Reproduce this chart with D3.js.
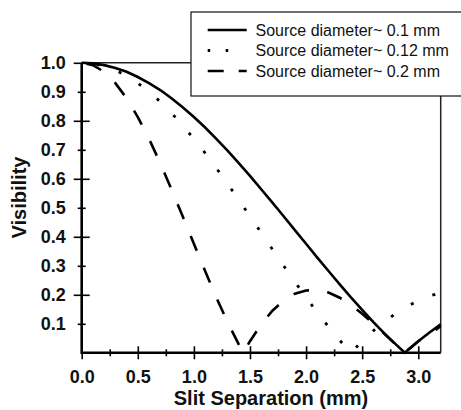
<!DOCTYPE html>
<html><head><meta charset="utf-8">
<script src="https://cdn.jsdelivr.net/npm/d3@7"></script>
<style>
html,body{margin:0;padding:0;background:#fff;}
svg{display:block;font-family:"Liberation Sans",Arial,Helvetica,sans-serif;}
</style></head>
<body>
<svg id="chart" width="461" height="410"></svg>
<script>
// ---- data ----
const xTicksMajor = [0.0, 0.5, 1.0, 1.5, 2.0, 2.5, 3.0];
const xTicksMinor = [0.25, 0.75, 1.25, 1.75, 2.25, 2.75];
const yTicksMajor = [0.2, 0.4, 0.6, 0.8, 1.0];
const yTicksMinor = [0.1, 0.3, 0.5, 0.7, 0.9];
const yTickLabels = [0.1, 0.2, 0.3, 0.4, 0.5, 0.6, 0.7, 0.8, 0.9, 1.0];

const seriesNames = ["Source diameter~ 0.1 mm", "Source diameter~ 0.12 mm", "Source diameter~ 0.2 mm"];

const xSolid = [0,0.1,0.2,0.3,0.4,0.5,0.6,0.7,0.8,0.9,1.0,1.1,1.2,1.3,1.4,1.5,1.6,1.7,1.8,1.9,2.0,2.1,2.2,2.3,2.4,2.5,2.6,2.7,2.8,2.88,2.9,3.0,3.1,3.2];
const ySolid = [1,0.998,0.992,0.982,0.969,0.951,0.930,0.906,0.878,0.847,0.813,0.777,0.738,0.697,0.654,0.610,0.564,0.518,0.471,0.423,0.376,0.328,0.282,0.236,0.191,0.148,0.106,0.066,0.029,0,0.007,0.040,0.070,0.098];

const xDotted = [0,0.1,0.2,0.3,0.4,0.5,0.6,0.7,0.8,0.9,1.0,1.1,1.2,1.3,1.4,1.5,1.6,1.7,1.8,1.9,2.0,2.1,2.2,2.3,2.4,2.5,2.6,2.7,2.8,2.9,3.0,3.1,3.2];
const yDotted = [1,0.997,0.989,0.975,0.955,0.930,0.900,0.866,0.827,0.784,0.738,0.689,0.637,0.583,0.527,0.471,0.414,0.357,0.300,0.245,0.191,0.139,0.090,0.043,0,0.040,0.076,0.108,0.136,0.160,0.180,0.196,0.207];

const xDashed = [0,0.1,0.2,0.3,0.4,0.5,0.6,0.7,0.8,0.9,1.0,1.1,1.2,1.3,1.4,1.44,1.5,1.6,1.7,1.8,1.9,2.0,2.1,2.2,2.3,2.4,2.5,2.6,2.7,2.8,2.88,2.9,3.0,3.1,3.2];
const yDashed = [1,0.992,0.969,0.930,0.878,0.813,0.738,0.654,0.564,0.471,0.376,0.282,0.191,0.106,0.029,0,0.040,0.098,0.145,0.180,0.204,0.215,0.216,0.208,0.190,0.165,0.135,0.101,0.065,0.028,0,0.007,0.040,0.063,0.092];

// ---- layout ----
const svg = d3.select("#chart");
const x = d3.scaleLinear().domain([0, 3.2]).range([81.7, 440.7]);
const y = d3.scaleLinear().domain([0, 1]).range([352.8, 62.8]);
const font = '"Liberation Sans",Arial,Helvetica,sans-serif';

// frame (top & right)
svg.append("path")
  .attr("d", `M${x(0)},${y(1)}H${x(3.2)}V${y(0)}`)
  .attr("fill", "none").attr("stroke", "#222").attr("stroke-width", 1.5);

// curves
const line = (xs, ys) => d3.line().x((d,i)=>x(xs[i])).y((d,i)=>y(ys[i]))(ys);
const g = svg.append("g");
g.append("path").attr("d", line(xSolid, ySolid))
  .attr("fill","none").attr("stroke","#000").attr("stroke-width",2.6);
g.append("path").attr("d", line(xDotted, yDotted))
  .attr("fill","none").attr("stroke","#000").attr("stroke-width",2.8)
  .attr("stroke-dasharray","3,20.4").attr("stroke-dashoffset",8.4);
g.append("path").attr("d", line(xDashed, yDashed))
  .attr("fill","none").attr("stroke","#000").attr("stroke-width",2.6)
  .attr("stroke-dasharray","16,18.4").attr("stroke-dashoffset",29.4);

// axes: tick marks crossing the axis
function tickAxis(axisFn, scale, vals, size, tr) {
  const a = svg.append("g").attr("transform", tr)
    .call(axisFn(scale).tickValues(vals).tickSize(size).tickFormat(""));
  a.select(".domain").remove();
  a.selectAll("line").attr("stroke","#000").attr("stroke-width",1.6);
  return a;
}
const xa = `translate(0,${y(0)})`, ya = `translate(${x(0)},0)`;
tickAxis(d3.axisBottom, x, xTicksMajor, 6.5, xa);
tickAxis(d3.axisTop, x, xTicksMajor, 6.5, xa);
tickAxis(d3.axisBottom, x, xTicksMinor, 3.5, xa);
tickAxis(d3.axisTop, x, xTicksMinor, 3.5, xa);
tickAxis(d3.axisLeft, y, yTicksMajor, 8, ya);
tickAxis(d3.axisRight, y, yTicksMajor.filter(v=>v<1), 8, ya);
tickAxis(d3.axisLeft, y, yTicksMinor, 4, ya);
tickAxis(d3.axisRight, y, yTicksMinor, 4, ya);

// labels
const xl = svg.append("g").attr("transform", xa)
  .call(d3.axisBottom(x).tickValues(xTicksMajor).tickSize(0).tickPadding(17).tickFormat(d3.format(".1f")));
xl.select(".domain").remove();
xl.selectAll("text").attr("font-family", font).attr("font-size", 18).attr("font-weight","bold").attr("fill","#111");

const yl = svg.append("g").attr("transform", ya)
  .call(d3.axisLeft(y).tickValues(yTickLabels).tickSize(0).tickPadding(16).tickFormat(d3.format(".1f")));
yl.select(".domain").remove();
yl.selectAll("text").attr("font-family", font).attr("font-size", 18).attr("font-weight","bold").attr("fill","#111");

// axis lines (left & bottom)
svg.append("path")
  .attr("d", `M${x(0)},${y(1)}V${y(0)}H${x(3.2)}`)
  .attr("fill","none").attr("stroke","#000").attr("stroke-width",2.6);

// axis titles
svg.append("text").attr("x", 271).attr("y", 405).attr("text-anchor","middle")
  .attr("font-family", font).attr("font-size", 20).attr("font-weight","bold").attr("fill","#111")
  .text("Slit Separation (mm)");
svg.append("text").attr("transform","translate(26,197.5) rotate(-90)").attr("text-anchor","middle")
  .attr("font-family", font).attr("font-size", 20).attr("font-weight","bold").attr("fill","#111")
  .text("Visibility");

// legend
const lg = svg.append("g");
lg.append("rect").attr("x",191).attr("y",12).attr("width",280).attr("height",84)
  .attr("fill","#fff").attr("stroke","#111").attr("stroke-width",1.2);
const rowsY = [30, 50.5, 71];
const dashes = [null, "2.5,15.5", "16,15"];
const ends = [246.7, 230, 246.7];
seriesNames.forEach((name, i) => {
  const l = lg.append("line").attr("x1",207.7).attr("x2",ends[i]).attr("y1",rowsY[i]).attr("y2",rowsY[i])
    .attr("stroke","#000").attr("stroke-width", i===1 ? 3 : 2.6);
  if (dashes[i]) l.attr("stroke-dasharray", dashes[i]);
  lg.append("text").attr("x",255.5).attr("y",rowsY[i]).attr("dy","0.36em")
    .attr("font-family", font).attr("font-size",16).attr("fill","#111").text(name);
});
</script>
</body></html>
